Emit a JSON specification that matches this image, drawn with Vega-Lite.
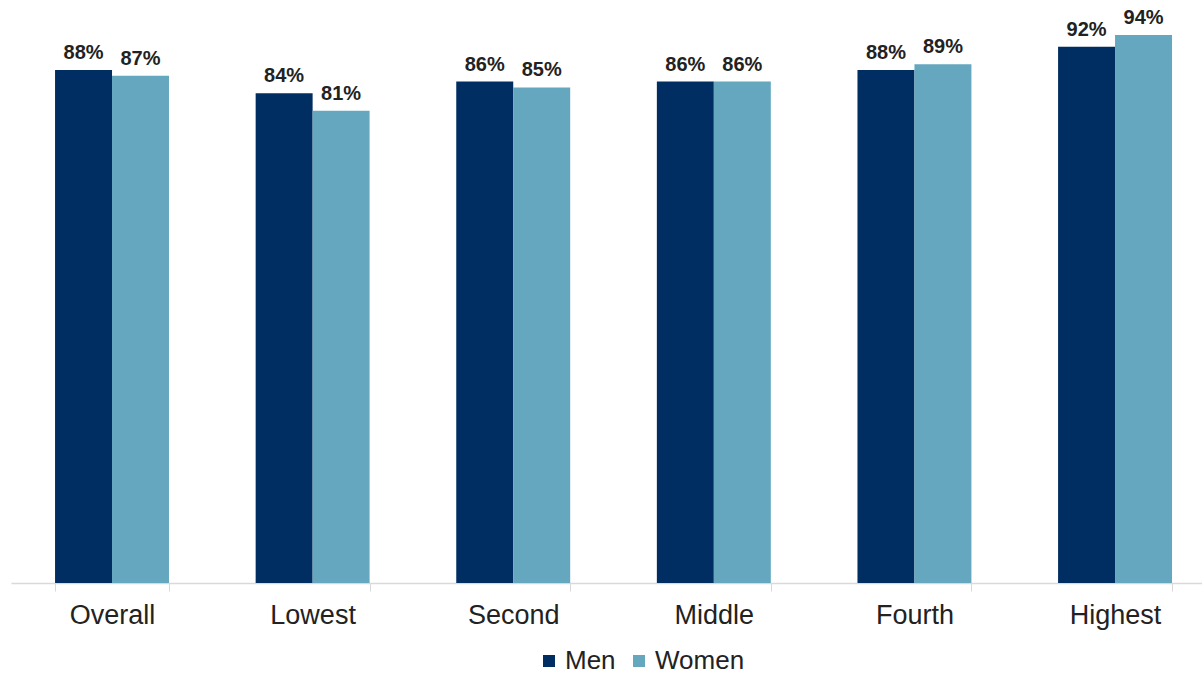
{
  "$schema": "https://vega.github.io/schema/vega-lite/v6.json",
  "width": 1191,
  "height": 583,
  "padding": {"left": 11, "top": 0, "right": 0, "bottom": 0},
  "autosize": {"type": "pad"},
  "config": {"view": {"stroke": null}, "font": "Liberation Sans"},
  "data": {"values": [
    {"cat": "Overall", "sex": "Men", "v": 0.88},
    {"cat": "Overall", "sex": "Women", "v": 0.87},
    {"cat": "Lowest", "sex": "Men", "v": 0.84},
    {"cat": "Lowest", "sex": "Women", "v": 0.81},
    {"cat": "Second", "sex": "Men", "v": 0.86},
    {"cat": "Second", "sex": "Women", "v": 0.85},
    {"cat": "Middle", "sex": "Men", "v": 0.86},
    {"cat": "Middle", "sex": "Women", "v": 0.86},
    {"cat": "Fourth", "sex": "Men", "v": 0.88},
    {"cat": "Fourth", "sex": "Women", "v": 0.89},
    {"cat": "Highest", "sex": "Men", "v": 0.92},
    {"cat": "Highest", "sex": "Women", "v": 0.94}
  ]},
  "encoding": {
    "x": {"field": "cat", "type": "nominal", "sort": ["Overall","Lowest","Second","Middle","Fourth","Highest"],
      "scale": {"paddingInner": 0.432, "paddingOuter": 0.1845, "align": 0.595},
      "axis": {"title": null, "labelAngle": 0, "labelFontSize": 27, "labelColor": "#222222", "labelPadding": 11,
        "domainColor": "#d9d9d9", "tickColor": "#d9d9d9", "tickSize": 8, "tickBand": "extent", "domainWidth": 1.5}},
    "xOffset": {"field": "sex", "type": "nominal", "scale": {"paddingInner": 0}},
    "y": {"field": "v", "type": "quantitative", "scale": {"domain": [0, 1]}, "axis": null}
  },
  "layer": [
    {"mark": {"type": "bar"},
     "encoding": {"color": {"field": "sex", "type": "nominal",
       "scale": {"domain": ["Men","Women"], "range": ["#002D62", "#64A7BF"]},
       "legend": {"title": null, "orient": "none", "direction": "horizontal", "legendX": 525, "legendY": 648,
         "symbolType": "square", "symbolSize": 144, "labelFontSize": 26, "labelColor": "#222222", "columnPadding": 10, "labelOffset": 3, "symbolStrokeWidth": 0}}}},
    {"mark": {"type": "text", "dy": -17, "baseline": "middle", "fontSize": 20, "fontWeight": "bold", "color": "#222222"},
     "encoding": {"text": {"field": "v", "type": "quantitative", "format": ".0%"}}}
  ]
}
